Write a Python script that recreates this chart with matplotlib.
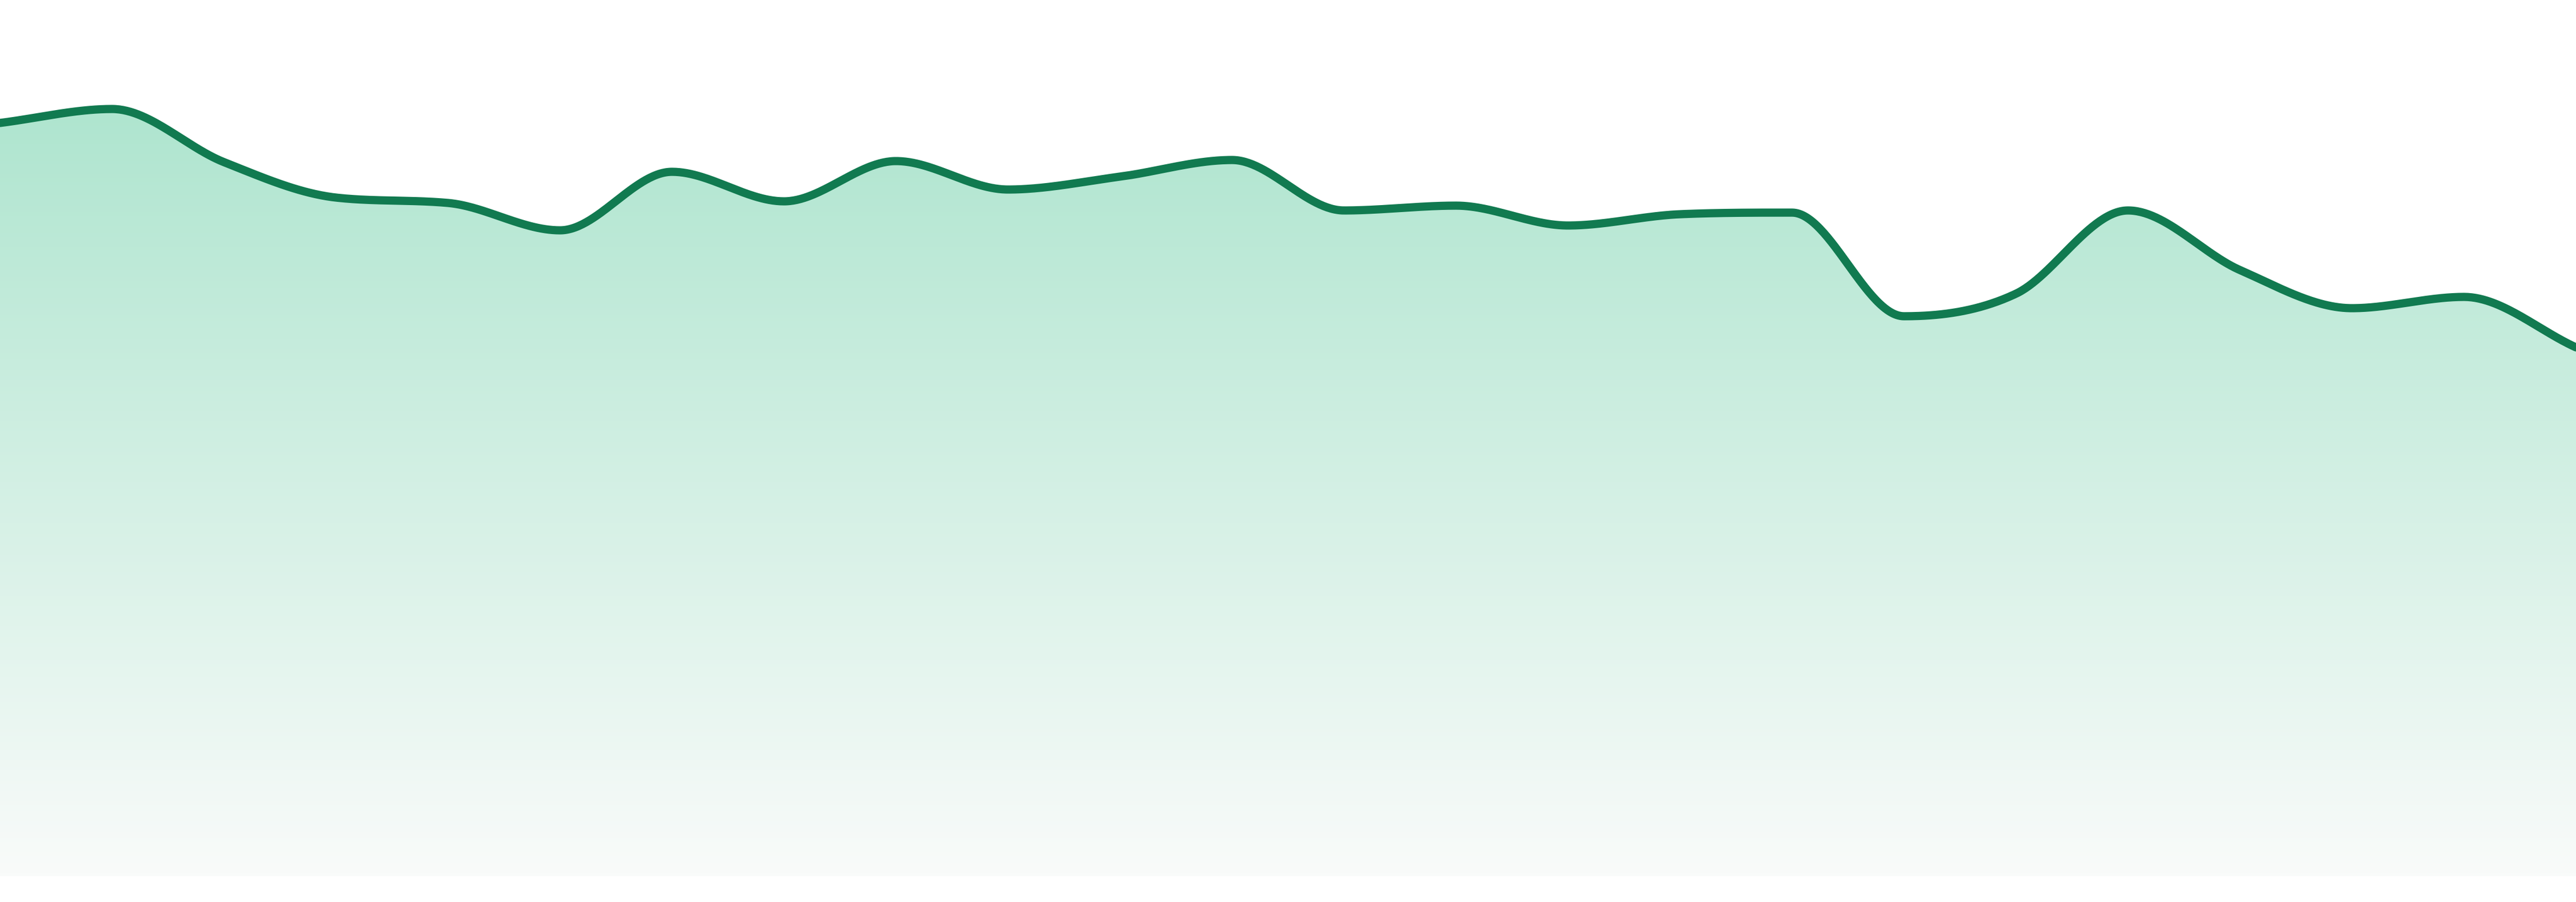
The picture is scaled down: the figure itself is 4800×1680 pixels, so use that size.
import matplotlib
matplotlib.use("Agg")
import matplotlib.pyplot as plt
import numpy as np
from matplotlib.colors import LinearSegmentedColormap

# one value per slot, 24 slots spread across the full width
values = [1403, 1429, 1330, 1264, 1254, 1203, 1312, 1257, 1332, 1279, 1303, 1334,
          1240, 1249, 1212, 1233, 1236, 1043, 1085, 1240, 1129, 1058, 1079, 985]
slots = list(range(len(values)))

line_color = "#117a50"
fill_top = "#a4e2c9"
fill_bottom = "#f9fbfa"


def monotone_curve(xs, ys, steps=60):
    # monotone cubic (same idea as chart.js cubicInterpolationMode='monotone')
    xs = np.asarray(xs, float)
    ys = np.asarray(ys, float)
    dx = np.diff(xs)
    d = np.diff(ys) / dx
    n = len(xs)
    m = np.zeros(n)
    m[0], m[-1] = d[0], d[-1]
    for i in range(1, n - 1):
        m[i] = 0.0 if d[i - 1] * d[i] <= 0 else (d[i - 1] + d[i]) / 2
    for i in range(n - 1):
        if d[i] == 0:
            m[i] = m[i + 1] = 0.0
            continue
        a, b = m[i] / d[i], m[i + 1] / d[i]
        s = a * a + b * b
        if s > 9:
            t = 3 / np.sqrt(s)
            m[i] = t * a * d[i]
            m[i + 1] = t * b * d[i]
    px, py = [], []
    for i in range(n - 1):
        t = np.linspace(0, 1, steps, endpoint=(i == n - 2))
        h00 = 2 * t**3 - 3 * t**2 + 1
        h10 = t**3 - 2 * t**2 + t
        h01 = -2 * t**3 + 3 * t**2
        h11 = t**3 - t**2
        px.append(xs[i] + t * dx[i])
        py.append(h00 * ys[i] + h10 * dx[i] * m[i] + h01 * ys[i + 1] + h11 * dx[i] * m[i + 1])
    return np.concatenate(px), np.concatenate(py)


fig = plt.figure(figsize=(48, 16.8), dpi=100)
ax = fig.add_axes([0, 48 / 1680, 1, 1632 / 1680])
ymax = 1632
ax.set_xlim(slots[0], slots[-1])
ax.set_ylim(0, ymax)
ax.axis("off")

cx, cy = monotone_curve(slots, values)

area = ax.fill_between(cx, cy, 0, color="none", lw=0)
cmap = LinearSegmentedColormap.from_list("fade", [fill_bottom, fill_top])
grad = np.linspace(0, 1, 512).reshape(-1, 1)
img = ax.imshow(grad, cmap=cmap, aspect="auto", origin="lower",
                extent=[slots[0], slots[-1], 0, ymax], zorder=1)
img.set_clip_path(area.get_paths()[0], transform=ax.transData)

ax.plot(cx, cy, color=line_color, lw=11, solid_capstyle="round",
        solid_joinstyle="round", zorder=3)

fig.savefig("out.png", dpi=100, facecolor="white")
